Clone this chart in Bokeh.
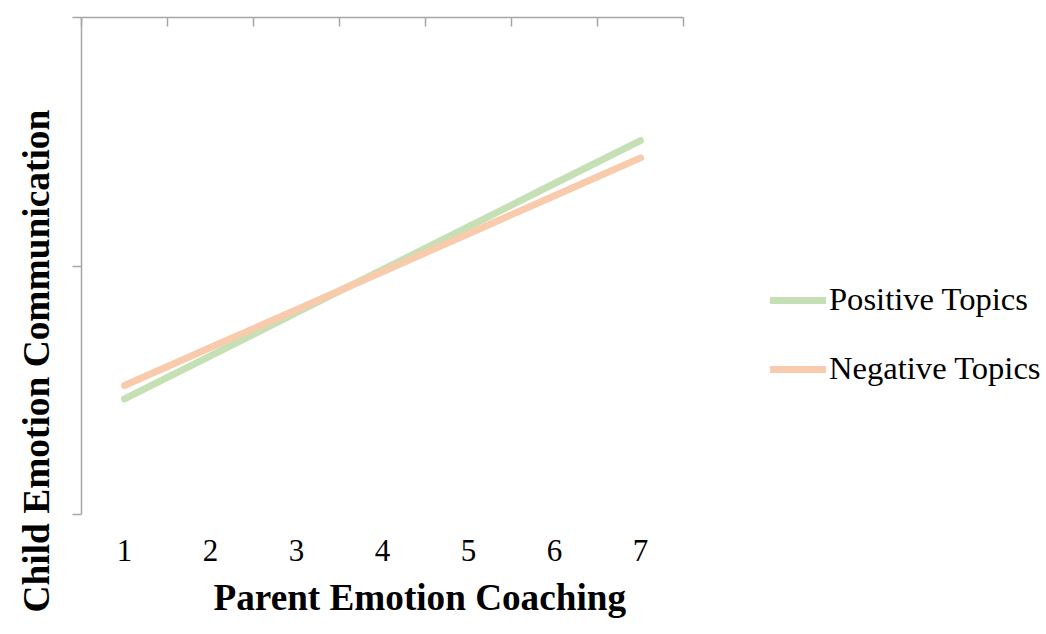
from bokeh.plotting import figure
from bokeh.models import (Range1d, LinearAxis, FixedTicker, Legend, LegendItem, Title)
from bokeh.embed import file_html
from bokeh.resources import INLINE

# ---- data ----
coaching = [1, 2, 3, 4, 5, 6, 7]
positive_topics = [0.465, 0.638, 0.812, 0.985, 1.158, 1.332, 1.505]
negative_topics = [0.519, 0.672, 0.824, 0.977, 1.130, 1.283, 1.435]
x_tick_labels = ["1", "2", "3", "4", "5", "6", "7"]
category_edges = [0.5, 1.5, 2.5, 3.5, 4.5, 5.5, 6.5, 7.5]
y_ticks = [0, 1, 2]
series_names = ["Positive Topics", "Negative Topics"]
x_title = "Parent Emotion Coaching"
y_title = "Child Emotion Communication"

GREEN = "#C5E0B4"
PEACH = "#F8CBAD"
AXIS = "#a6a6a6"
SERIF = "Liberation Serif"

W, H = 1044, 634
LEFT, TOP, BOTTOM = 81, 17, 514
cat_px = 86.0
x_end = 0.5 + (W - LEFT) / cat_px

p = figure(width=W, height=H, output_backend="svg", toolbar_location=None,
           x_range=Range1d(0.5, x_end), y_range=Range1d(0, 2),
           min_border_left=LEFT, min_border_top=TOP, min_border_right=0,
           min_border_bottom=H - BOTTOM)
p.outline_line_color = None
p.xgrid.visible = False
p.ygrid.visible = False

# bottom axis: tick labels only
xa = p.xaxis[0]
xa.ticker = FixedTicker(ticks=coaching)
xa.major_label_overrides = {c: l for c, l in zip(coaching, x_tick_labels)}
xa.axis_line_color = None
xa.major_tick_line_color = None
xa.minor_tick_line_color = None
xa.major_tick_in = 0
xa.major_tick_out = 0
xa.major_label_standoff = 25
xa.major_label_text_font = SERIF
xa.major_label_text_font_size = "31px"
xa.major_label_text_color = "black"

# left axis: outward ticks, no labels
ya = p.yaxis[0]
ya.ticker = FixedTicker(ticks=[], minor_ticks=y_ticks)
ya.bounds = (0, 2)
ya.axis_line_color = AXIS
ya.axis_line_width = 1.5
ya.major_tick_line_color = None
ya.minor_tick_line_color = AXIS
ya.minor_tick_line_width = 1.5
ya.minor_tick_in = 0
ya.minor_tick_out = 9
ya.major_label_standoff = 0

# top axis: line with inward ticks between categories
ta = LinearAxis(ticker=FixedTicker(ticks=[], minor_ticks=category_edges))
ta.bounds = (0.5, 7.5)
ta.axis_line_color = AXIS
ta.axis_line_width = 1.5
ta.major_tick_line_color = None
ta.minor_tick_line_color = AXIS
ta.minor_tick_line_width = 1.5
ta.minor_tick_in = 9
ta.minor_tick_out = 0
ta.major_label_standoff = 0
p.add_layout(ta, "above")

r_pos = p.line(coaching, positive_topics, line_color=GREEN, line_width=7, line_cap="round")
r_neg = p.line(coaching, negative_topics, line_color=PEACH, line_width=7, line_cap="round")

legend = Legend(items=[LegendItem(label=series_names[0], renderers=[r_pos]),
                       LegendItem(label=series_names[1], renderers=[r_neg])],
                location=(770 - LEFT, 127), orientation="vertical",
                border_line_color=None, background_fill_alpha=0,
                padding=0, margin=0, spacing=32,
                glyph_width=56, glyph_height=36, label_height=36,
                label_standoff=3,
                label_text_font=SERIF, label_text_font_size="32.6px",
                label_text_color="black")
p.add_layout(legend, "center")

xt = Title(text=x_title, align="left", offset=213 - LEFT, vertical_align="top",
           standoff=26, text_font=SERIF, text_font_style="bold",
           text_font_size="37.2px", text_color="black")
p.add_layout(xt, "below")

yt = Title(text=y_title, align="left", offset=-(612 - BOTTOM), vertical_align="top",
           standoff=28, text_font=SERIF, text_font_style="bold",
           text_font_size="37.4px", text_color="black")
p.add_layout(yt, "left")

open("out.html", "w").write(file_html(p, INLINE))
